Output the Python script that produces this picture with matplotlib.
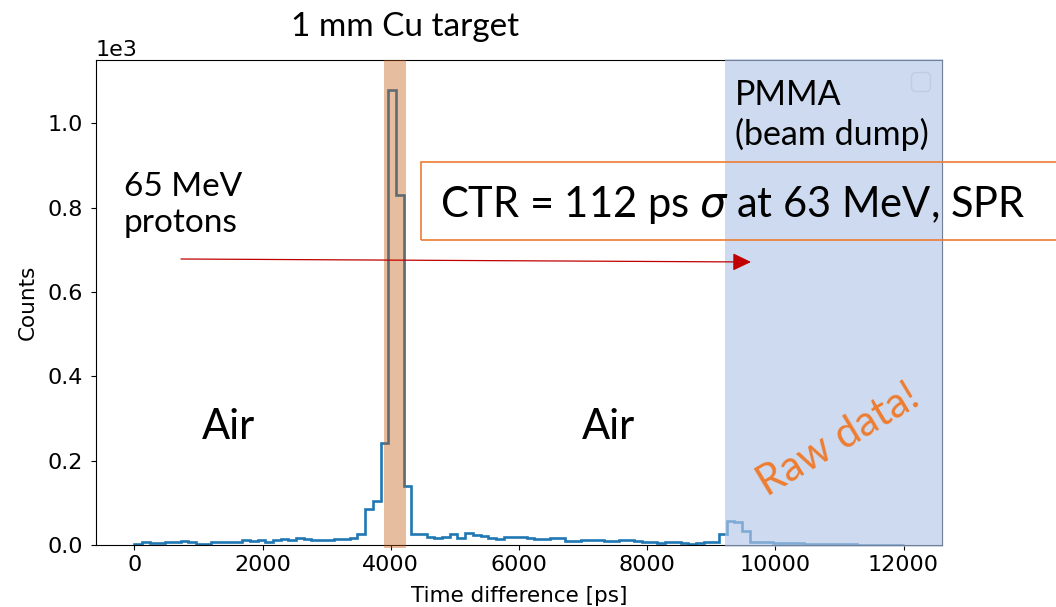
#!/usr/bin/env python3
# -*- coding: utf-8 -*-
"""
Time difference histogram, 65 MeV protons through 1 mm Cu target and PMMA.
"""

import numpy as np
from matplotlib import pyplot as plt
from matplotlib.patches import Rectangle

# histogram: 100 bins of 120 ps between 0 and 12000 ps
edges = np.linspace(0, 12000, 101)
counts = [3, 7, 5, 5, 6, 6, 9, 6, 3, 3,
          6, 7, 8, 8, 12, 9, 11, 8, 13, 14,
          11, 16, 14, 12, 12, 12, 14, 15, 16, 25,
          85, 105, 243, 1078, 831, 140, 27, 25, 18, 17,
          18, 27, 17, 29, 24, 21, 17, 15, 20, 19,
          20, 17, 14, 14, 17, 17, 9, 9, 12, 12,
          11, 9, 9, 11, 11, 9, 7, 6, 5, 7,
          8, 5, 3, 4, 6, 7, 25, 58, 54, 33,
          8, 6, 6, 5, 5, 4, 4, 3, 3, 3,
          2, 2, 2, 2, 1, 1, 1, 1, 1, 1]

# regions of the setup along the time axis [ps]
cu_target = (3890, 4235)
pmma_start = 9210

W, H = 1056, 607


def fxy(x, y):
    """pixel position -> figure fraction"""
    return x / W, 1 - y / H


annot_font = ['Lato', 'DejaVu Sans']

fig = plt.figure(figsize=(W / 100, H / 100), dpi=100)
ax = fig.add_axes([96 / W, 62 / H, 846 / W, 485 / H])

ax.stairs(counts, edges, color='tab:blue', lw=1.9, zorder=2)
ax.set_xlim(-600, 12600)
ax.set_ylim(0, 1150)
ax.ticklabel_format(axis='y', style='sci', scilimits=(0, 0))
ax.tick_params(labelsize=16)
ax.tick_params(axis='y', pad=6)
ax.yaxis.get_offset_text().set_fontsize(16)
ax.set_xlabel('Time difference [ps]', fontsize=15.5, labelpad=8)
ax.set_ylabel('Counts', fontsize=15.5, labelpad=7)

leg = ax.legend(handles=[], loc='upper right', fontsize=17)
leg.set_zorder(2.8)

# 1 mm Cu target band
ax.add_patch(Rectangle((cu_target[0], -0.006), cu_target[1] - cu_target[0], 1.006,
                       transform=ax.get_xaxis_transform(), clip_on=False,
                       color='#c55a11', alpha=0.4, lw=0, zorder=3))
# PMMA beam dump
ax.add_patch(Rectangle((pmma_start, -0.005), 12610 - pmma_start, 1.008,
                       transform=ax.get_xaxis_transform(), clip_on=False,
                       color='#b4c7e7', alpha=0.65, lw=0, zorder=3))

fig.text(*fxy(405, 27), '1 mm Cu target', ha='center', va='center',
         fontsize=24, family=annot_font)
fig.text(*fxy(228, 427), 'Air', ha='center', va='center',
         fontsize=30, family=annot_font)
fig.text(*fxy(608, 427), 'Air', ha='center', va='center',
         fontsize=30, family=annot_font)
fig.text(*fxy(124, 205), '65 MeV\nprotons', ha='left', va='center',
         fontsize=24, family=annot_font, linespacing=1.25)
fig.text(*fxy(735, 115), 'PMMA\n(beam dump)', ha='left', va='center',
         fontsize=24.5, family=annot_font, linespacing=1.25, zorder=5)
fig.text(*fxy(838, 440), 'Raw data!', ha='center', va='center', rotation=31,
         fontsize=30, family=annot_font, color='#ed7d31', zorder=5)

fig.add_artist(Rectangle(fxy(421, 240), 700 / W, 78 / H, transform=fig.transFigure,
                         fill=False, edgecolor='#ed7d31', lw=1.2, zorder=5))
fig.text(*fxy(440, 205), r'CTR = 112 ps $\sigma$ at 63 MeV, SPR', ha='left',
         va='center', fontsize=30, family=annot_font, zorder=5)

ax.annotate('', xy=fxy(751, 262), xytext=fxy(181, 259),
            xycoords='figure fraction', textcoords='figure fraction',
            arrowprops=dict(arrowstyle='-|>,head_length=0.75,head_width=0.36',
                            mutation_scale=15, color='#c00000', lw=0.9,
                            shrinkA=0, shrinkB=0),
            zorder=6)

plt.savefig('out.png', dpi=100)
